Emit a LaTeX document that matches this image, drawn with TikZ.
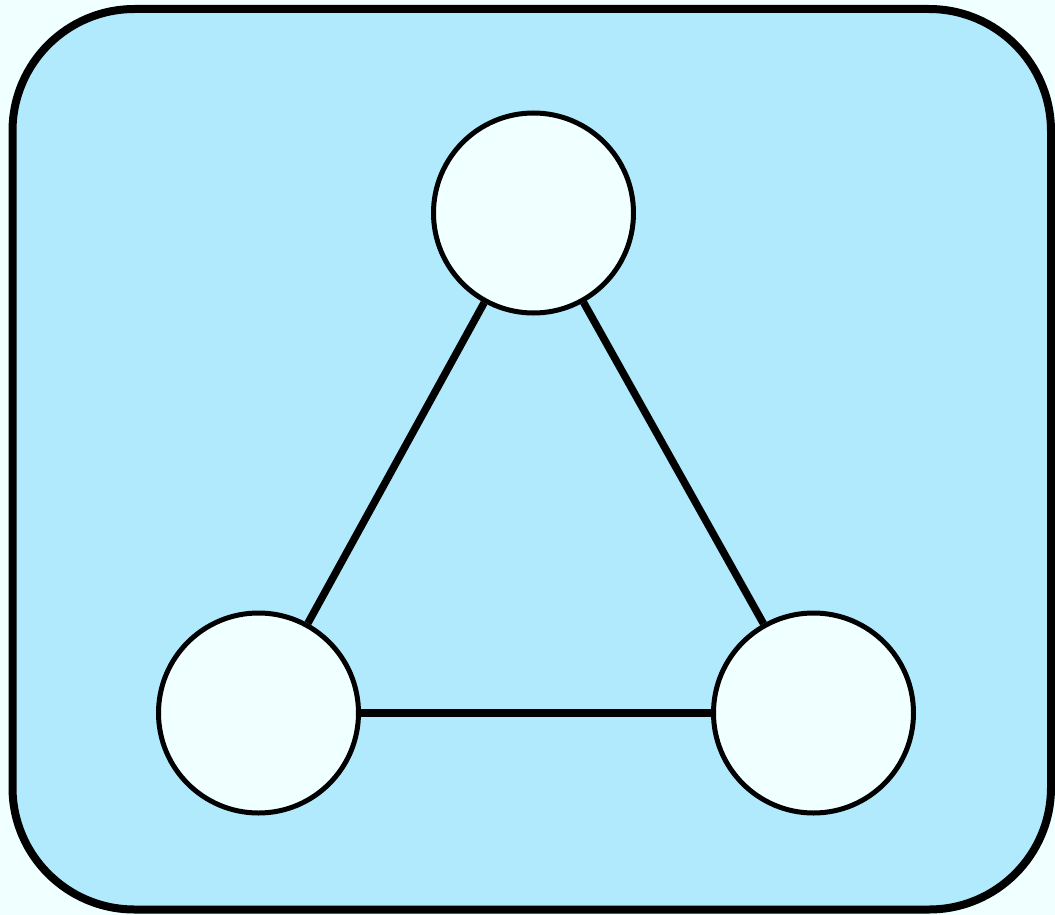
\documentclass[tikz,border=0pt]{standalone}
\definecolor{bgazure}{RGB}{240,255,255}
\definecolor{panelblue}{RGB}{176,234,252}
\begin{document}
\begin{tikzpicture}[x=1pt,y=-1pt,
  vertex/.style={circle,draw=black,line width=5pt,fill=bgazure,minimum size=200pt,inner sep=0pt},
  link/.style={draw=black,line width=7.5pt},
  panel/.style={draw=black,fill=panelblue,line width=8pt,rounded corners=122pt}]
\fill[bgazure] (0,0) rectangle (1055,915);
\useasboundingbox (0,0) rectangle (1055,915);
\path[panel] (12.5,9) rectangle (1051,909.5);
\node[vertex] (top) at (533.5,213) {};
\node[vertex] (left) at (258.5,713) {};
\node[vertex] (right) at (813.5,713) {};
\draw[link] (top) -- (left);
\draw[link] (top) -- (right);
\draw[link] (left) -- (right);
\end{tikzpicture}
\end{document}
